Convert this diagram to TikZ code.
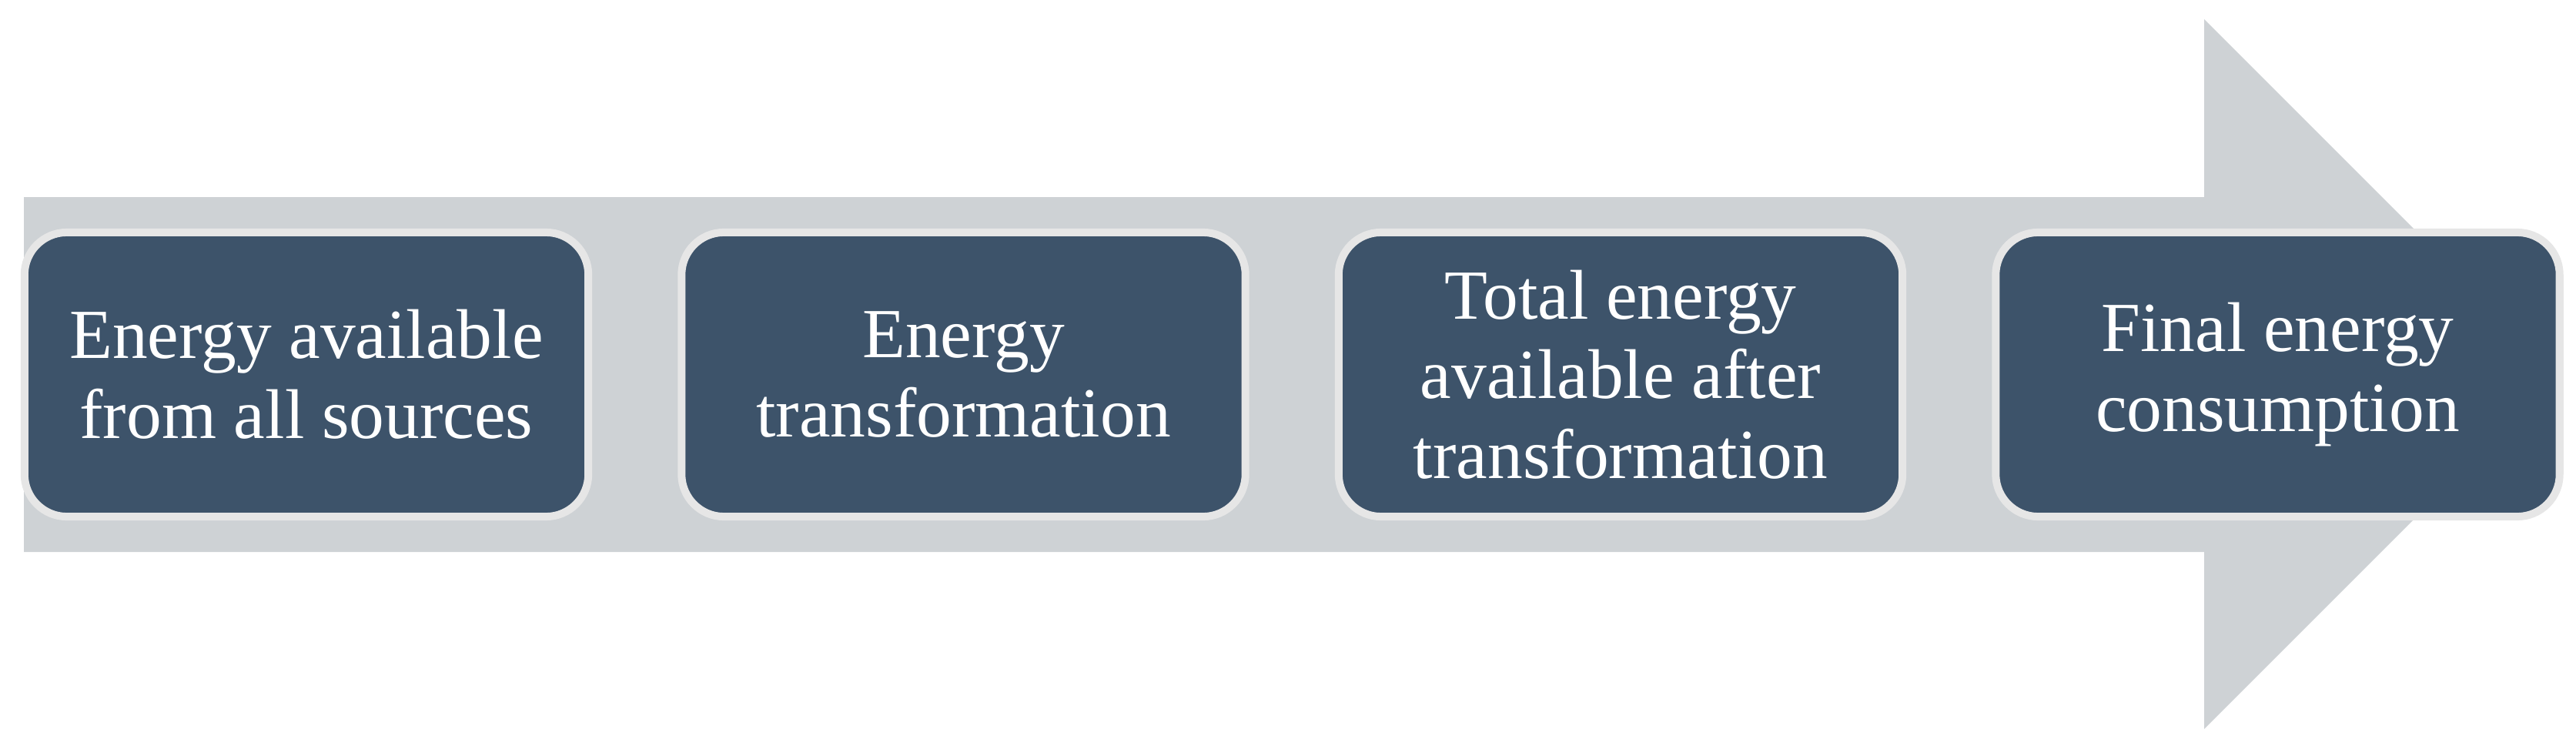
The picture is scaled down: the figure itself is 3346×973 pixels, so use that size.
\documentclass[tikz,border=0pt]{standalone}
\usepackage{fontspec}
\setmainfont{Liberation Serif}
\usepackage{xcolor}
\usepackage{tikz}
\usetikzlibrary{positioning}
\definecolor{flowgray}{RGB}{206, 210, 213}
\definecolor{stepblue}{RGB}{61, 83, 106}
\definecolor{steprim}{RGB}{230, 230, 230}

\begin{document}
\begin{tikzpicture}[
  x=0.01cm, y=-0.01cm,
  node distance=1.11cm,
  estep/.style={rectangle, rounded corners=0.55cm, draw=steprim, line width=0.1cm,
               fill=stepblue, text=white, minimum width=7.32cm, minimum height=3.69cm,
               align=center, font=\fontsize{26}{29.5}\selectfont},
  flow/.style={fill=flowgray}
]
\useasboundingbox (0,0) rectangle (3346,973);

% big arrow behind the steps
\fill[flow] (31,256) -- (2863,256) -- (2863,25) -- (3324,486) -- (2863,947)
  -- (2863,717) -- (31,717) -- cycle;

\node[estep] (s1) at (398,486.5) {Energy available\\from all sources};
\node[estep, right=of s1] (s2) {Energy\\transformation};
\node[estep, right=of s2] (s3) {Total energy\\available after\\transformation};
\node[estep, right=of s3] (s4) {Final energy\\consumption};

\end{tikzpicture}
\end{document}
